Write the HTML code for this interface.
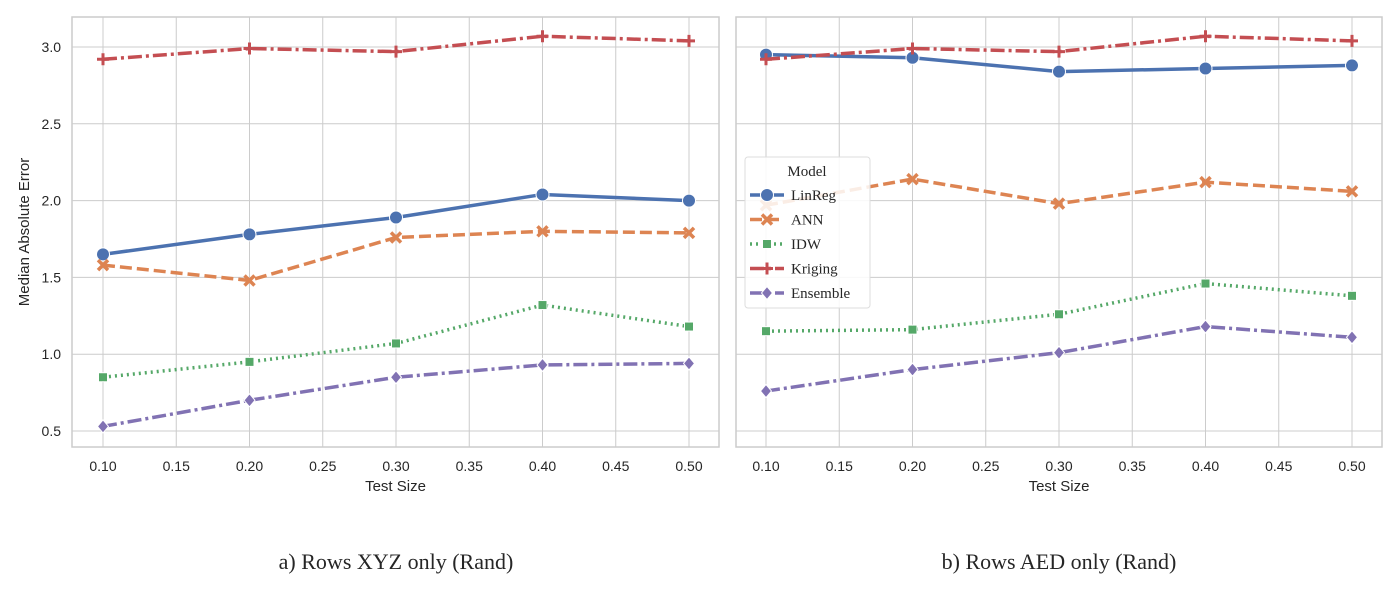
<!DOCTYPE html>
<html><head><meta charset="utf-8"><style>
body{margin:0;background:#fff;}
svg text{font-family:"Liberation Sans",sans-serif;fill:#262626;}
</style></head><body>
<svg id="chart" width="1400" height="600" xmlns="http://www.w3.org/2000/svg"></svg>
<script>
const xVals=[0.10,0.20,0.30,0.40,0.50];
const xTicks=[0.10,0.15,0.20,0.25,0.30,0.35,0.40,0.45,0.50];
const yTicks=[0.5,1.0,1.5,2.0,2.5,3.0];
const seriesNames=["LinReg","ANN","IDW","Kriging","Ensemble"];
const leftLinReg=[1.65,1.78,1.89,2.04,2.00];
const leftANN=[1.58,1.48,1.76,1.80,1.79];
const leftIDW=[0.85,0.95,1.07,1.32,1.18];
const leftKriging=[2.92,2.99,2.97,3.07,3.04];
const leftEnsemble=[0.53,0.70,0.85,0.93,0.94];
const rightLinReg=[2.95,2.93,2.84,2.86,2.88];
const rightANN=[1.97,2.14,1.98,2.12,2.06];
const rightIDW=[1.15,1.16,1.26,1.46,1.38];
const rightKriging=[2.92,2.99,2.97,3.07,3.04];
const rightEnsemble=[0.76,0.90,1.01,1.18,1.11];
const captions=["a) Rows XYZ only (Rand)","b) Rows AED only (Rand)"];

const NS="http://www.w3.org/2000/svg";
const svg=document.getElementById('chart');
function mk(tag,attrs,parent){const e=document.createElementNS(NS,tag);for(const k in attrs)e.setAttribute(k,attrs[k]);(parent||svg).appendChild(e);return e;}
const colors=["#4c72b0","#dd8452","#55a868","#c44e52","#8172b3"];
const dashes=["none","12,5","2,4","14,4,3,4","14,4,3,4"];
const markers=["circle","x","square","plus","diamond"];
function marker(g,t,x,y,c){
  let m;
  if(t==="circle")m=mk('circle',{cx:x,cy:y,r:6.5,fill:c,stroke:'#fff','stroke-width':1},g);
  else if(t==="square")m=mk('rect',{x:x-4.5,y:y-4.5,width:9,height:9,fill:c,stroke:'#fff','stroke-width':1},g);
  else if(t==="diamond")m=mk('path',{d:`M${x} ${y-6.5}L${x+5.5} ${y}L${x} ${y+6.5}L${x-5.5} ${y}Z`,fill:c,stroke:'#fff','stroke-width':1},g);
  else if(t==="x")m=mk('path',{d:`M${x-5} ${y-5}L${x+5} ${y+5}M${x+5} ${y-5}L${x-5} ${y+5}`,stroke:c,'stroke-width':3.5,fill:'none'},g);
  else m=mk('path',{d:`M${x-6} ${y}L${x+6} ${y}M${x} ${y-6}L${x} ${y+6}`,stroke:c,'stroke-width':3,fill:'none'},g);
  
  
}
const panels=[
 {x0:72,x1:719,xa:103,xb:689,data:[leftLinReg,leftANN,leftIDW,leftKriging,leftEnsemble],yl:true,cap:captions[0],cx:396,name:'left-panel'},
 {x0:736,x1:1382,xa:766,xb:1352,data:[rightLinReg,rightANN,rightIDW,rightKriging,rightEnsemble],yl:false,cap:captions[1],cx:1059,name:'right-panel'}];
const yTop=17,yBot=447;
const ys=v=>47+(3-v)*153.6;
panels.forEach(p=>{
  const xs=v=>p.xa+(v-0.1)/0.4*(p.xb-p.xa);
  const g=mk('g',{});
  
  
  xTicks.forEach(t=>{mk('line',{x1:xs(t),x2:xs(t),y1:yTop,y2:yBot,stroke:'#cccccc','stroke-width':1},g);
    const tx=mk('text',{x:xs(t),y:471,'font-size':14,'text-anchor':'middle'},g);tx.textContent=t.toFixed(2);
    });
  yTicks.forEach(t=>{mk('line',{x1:p.x0,x2:p.x1,y1:ys(t),y2:ys(t),stroke:'#cccccc','stroke-width':1},g);
    if(p.yl){const tx=mk('text',{x:61,y:ys(t)+5,'font-size':14,'text-anchor':'end'},g);tx.textContent=t.toFixed(1);
    }});
  const fr=mk('rect',{x:p.x0,y:yTop,width:p.x1-p.x0,height:yBot-yTop,fill:'none',stroke:'#cccccc','stroke-width':1.5},g);
  
  const xl=mk('text',{x:(p.x0+p.x1)/2,y:491,'font-size':15,'text-anchor':'middle'},g);xl.textContent='Test Size';
  
  p.data.forEach((arr,i)=>{
    const pts=arr.map((v,j)=>xs(xVals[j])+','+ys(v)).join(' ');
    const l=mk('polyline',{points:pts,fill:'none',stroke:colors[i],'stroke-width':3.5,'stroke-dasharray':dashes[i]},g);
    
    
    arr.forEach((v,j)=>marker(g,markers[i],xs(xVals[j]),ys(v),colors[i]));
  });
  const c=mk('text',{x:p.cx,y:569,'font-size':22,'text-anchor':'middle'},g);
  c.setAttribute('style','font-family:"Liberation Serif",serif');
  c.textContent=p.cap;
  
});
const yt=mk('text',{x:29,y:232,'font-size':15,'text-anchor':'middle',transform:'rotate(-90 29 232)'});
yt.textContent='Median Absolute Error';

const lg=mk('g',{});


mk('rect',{x:745,y:157,width:125,height:151,rx:3,fill:'#fff','fill-opacity':0.85,stroke:'#dddddd'},lg);
const lt=mk('text',{x:807,y:176,'font-size':15,'text-anchor':'middle'},lg);
lt.setAttribute('style','font-family:"Liberation Serif",serif');lt.textContent='Model';

seriesNames.forEach((n,i)=>{
  const y=195+i*24.5;
  const e=mk('g',{},lg);
  
  
  mk('line',{x1:750,x2:784,y1:y,y2:y,stroke:colors[i],'stroke-width':3.5,'stroke-dasharray':dashes[i]},e);
  marker(e,markers[i],767,y,colors[i]);
  const t=mk('text',{x:791,y:y+5,'font-size':15},e);
  t.setAttribute('style','font-family:"Liberation Serif",serif');t.textContent=n;
});
</script>
</body></html>
